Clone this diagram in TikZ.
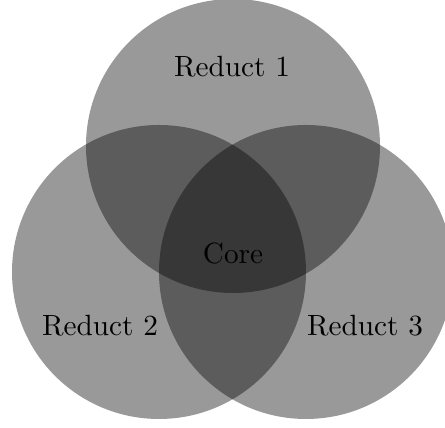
\documentclass[tikz,border=0pt]{standalone}
\usepackage{tikz}
\usetikzlibrary{positioning}

\begin{document}
\begin{tikzpicture}[
    x=0.3414pt, y=-0.3414pt,
    every node/.style={font=\normalsize},
    reduct/.style={fill=black, fill opacity=0.4},
]
\useasboundingbox (0,0) rectangle (445,428);
\fill[reduct] (233,146) circle[radius=147];
\fill[reduct] (159,272) circle[radius=147];
\fill[reduct] (306,272) circle[radius=147];
\node (red1) at (232,67) {Reduct 1};
\node (red2) at (100,326) {Reduct 2};
\node (red3) at (365,326) {Reduct 3};
\node (core) at (233,254) {Core};
\end{tikzpicture}
\end{document}
